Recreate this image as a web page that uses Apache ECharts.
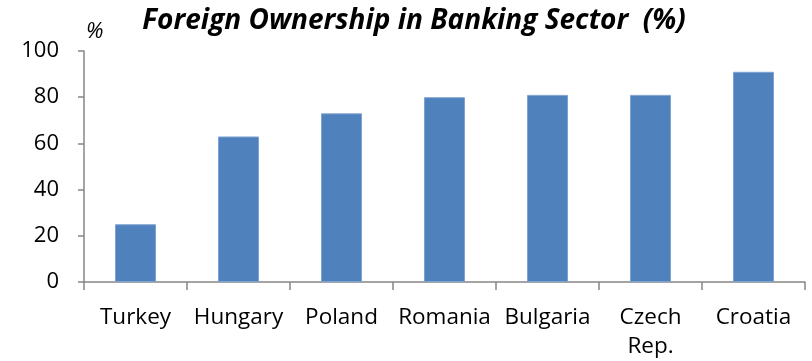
<!DOCTYPE html>
<html>
<head>
<meta charset="utf-8">
<script src="https://cdn.jsdelivr.net/npm/echarts@6/dist/echarts.min.js"></script>
<style>
  html, body { margin: 0; padding: 0; background: #fff; }
  #chart { width: 812px; height: 361px; }
</style>
</head>
<body>
<div id="chart"></div>
<script>
const countries = ['Turkey', 'Hungary', 'Poland', 'Romania', 'Bulgaria', 'Czech\nRep.', 'Croatia'];
const foreignShare = [25, 63, 73, 80, 81, 81, 91];
const yTicks = { min: 0, max: 100, interval: 20 };

const fontFamily = '"Open Sans", sans-serif';
const axisGrey = '#868686';

const chart = echarts.init(document.getElementById('chart'));
chart.setOption({
  animation: false,
  title: {
    text: 'Foreign Ownership in Banking Sector  (%)',
    left: 409,
    textAlign: 'center',
    top: 2,
    textStyle: { fontFamily, fontSize: 28, fontWeight: 'bold', fontStyle: 'italic', color: '#000' }
  },
  graphic: [{
    type: 'text',
    left: 86,
    top: 21,
    style: { text: '%', font: 'italic 22px ' + fontFamily, fill: '#000' }
  }],
  grid: { left: 84, right: 7, top: 51, bottom: 78 },
  xAxis: {
    type: 'category',
    data: countries,
    axisLine: { lineStyle: { color: axisGrey, width: 1.5 } },
    axisTick: { show: true, length: 8, lineStyle: { color: axisGrey, width: 1.5 } },
    axisLabel: { color: '#000', fontFamily, fontSize: 22.5, margin: 21, lineHeight: 29, interval: 0 }
  },
  yAxis: {
    type: 'value',
    min: yTicks.min,
    max: yTicks.max,
    interval: yTicks.interval,
    splitLine: { show: false },
    axisLine: { show: true, lineStyle: { color: axisGrey, width: 1.5 } },
    axisTick: { show: true, length: 6, lineStyle: { color: axisGrey, width: 1.5 } },
    axisLabel: { color: '#000', fontFamily, fontSize: 22, margin: 25 }
  },
  series: [{
    type: 'bar',
    data: foreignShare,
    barWidth: 41,
    itemStyle: { color: '#4F81BD', borderColor: '#7FA3D0', borderWidth: 1 }
  }]
});
</script>
</body>
</html>
